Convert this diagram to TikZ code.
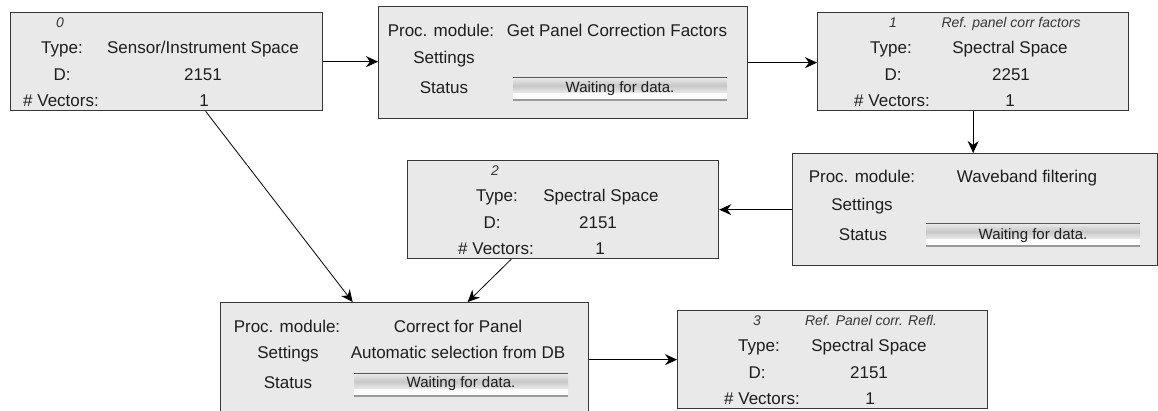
\documentclass[tikz,border=0pt]{standalone}
\usepackage{fontspec}
\setmainfont{Liberation Sans}
\usetikzlibrary{arrows.meta,calc}
\definecolor{boxfill}{RGB}{233,233,233}
\definecolor{boxline}{RGB}{55,55,55}
\definecolor{txt}{RGB}{30,30,30}
\definecolor{idxcol}{RGB}{55,55,55}
\tikzset{
  box/.style={draw=boxline, fill=boxfill, line width=1.3pt, inner sep=0pt, anchor=north west, rectangle},
  tx/.style={font=\fontsize{17}{20}\selectfont, text=txt, inner sep=0pt, anchor=base},
  idx/.style={font=\fontsize{14}{16}\selectfont\itshape, text=idxcol, inner sep=0pt, anchor=base},
  wt/.style={font=\fontsize{15}{17}\selectfont, text=txt, inner sep=0pt, anchor=base},
  barline/.style={draw=black!65, line width=1pt},
  barline2/.style={draw=black!40, line width=1.3pt},
  conn/.style={draw=black, line width=0.8pt, -{Stealth[length=12pt,width=11pt,inset=4pt]}}
}
% status bar: x1, x2, ytop
\newcommand\stbar[3]{%
  \draw[barline] (#1,#3) -- (#2,#3);
  \shade[top color=black!9, bottom color=black!8, middle color=black!22] (#1,#3+1) rectangle (#2,#3+16);
  \fill[white!85!boxfill] (#1,#3+16) rectangle (#2,#3+22);
  \draw[barline2] (#1,#3+23) -- (#2,#3+23);
}
\begin{document}
\begin{tikzpicture}[x=1pt,y=-1pt]
\clip (0,0) rectangle (1158,410);
\fill[white] (0,0) rectangle (1158,410);

% boxes
\node[box, minimum width=312pt, minimum height=98pt] (A) at (10,12) {};
\node[box, minimum width=369pt, minimum height=112pt] (B) at (378,6) {};
\node[box, minimum width=311pt, minimum height=98pt] (C) at (817,12) {};
\node[box, minimum width=365pt, minimum height=112pt] (D) at (792,153) {};
\node[box, minimum width=311pt, minimum height=98pt] (E) at (407,160) {};
\node[box, minimum width=368pt, minimum height=130pt] (F) at (220,302) {};
\node[box, minimum width=310pt, minimum height=98pt] (G) at (677,310) {};

% box A (0)
\node[idx] (A0) at (60,27) {0};
\node[tx] (A1) at (62,53) {Type:};
\node[tx] (A2) at (203,53) {Sensor/Instrument Space};
\node[tx] (A3) at (62,80) {D:};
\node[tx] (A4) at (203,80) {2151};
\node[tx] (A5) at (61,106) {\# Vectors:};
\node[tx] (A6) at (204,106) {1};

% box B
\node[tx] (B1) at (441,36) {Proc. module:};
\node[tx] (B2) at (617,36) {Get Panel Correction Factors};
\node[tx] (B3) at (444,63) {Settings};
\node[tx] (B4) at (444,93) {Status};
\stbar{513}{727}{77}
\node[wt] (B5) at (620,92) {Waiting for data.};

% box C (1)
\node[idx] (C0) at (893,27) {1};
\node[idx] (C0b) at (1011,27) {Ref. panel corr factors};
\node[tx] (C1) at (891,53) {Type:};
\node[tx] (C2) at (1010,53) {Spectral Space};
\node[tx] (C3) at (893,80) {D:};
\node[tx] (C4) at (1011,80) {2251};
\node[tx] (C5) at (892,106) {\# Vectors:};
\node[tx] (C6) at (1010,106) {1};

% box D
\node[tx] (D1) at (862,182) {Proc. module:};
\node[tx] (D2) at (1027,182) {Waveband filtering};
\node[tx] (D3) at (862,210) {Settings};
\node[tx] (D4) at (863,240) {Status};
\stbar{926}{1140}{223}
\node[wt] (D5) at (1033,239) {Waiting for data.};

% box E (2)
\node[idx] (E0) at (495,175) {2};
\node[tx] (E1) at (497,201) {Type:};
\node[tx] (E2) at (601,201) {Spectral Space};
\node[tx] (E3) at (492,228) {D:};
\node[tx] (E4) at (598,228) {2151};
\node[tx] (E5) at (496,254) {\# Vectors:};
\node[tx] (E6) at (600,254) {1};

% box F
\node[tx] (F1) at (287,332) {Proc. module:};
\node[tx] (F2) at (458,332) {Correct for Panel};
\node[tx] (F3) at (288,358) {Settings};
\node[tx] (F4) at (458,358) {Automatic selection from DB};
\node[tx] (F5) at (288,388) {Status};
\stbar{354}{568}{373}
\node[wt] (F6) at (461,387) {Waiting for data.};

% box G (3)
\node[idx] (G0) at (757,325) {3};
\node[idx] (G0b) at (871,325) {Ref. Panel corr. Refl.};
\node[tx] (G1) at (759,351) {Type:};
\node[tx] (G2) at (869,351) {Spectral Space};
\node[tx] (G3) at (757,378) {D:};
\node[tx] (G4) at (869,378) {2151};
\node[tx] (G5) at (762,404) {\# Vectors:};
\node[tx] (G6) at (870,404) {1};

% connectors
\draw[conn] (A.east) -- (A.east -| B.west);
\draw[conn] (B.east) -- (B.east -| C.west);
\draw[conn] (C.south) -- (C.south |- D.north);
\draw[conn] (D.west) -- (D.west -| E.east);
\draw[conn] ([xshift=39pt]A.south) -- ([xshift=-52pt]F.north);
\draw[conn] ([xshift=-52pt]E.south) -- ([xshift=63pt]F.north);
\draw[conn] (F.east |- G.west) -- (G.west);
\end{tikzpicture}
\end{document}
